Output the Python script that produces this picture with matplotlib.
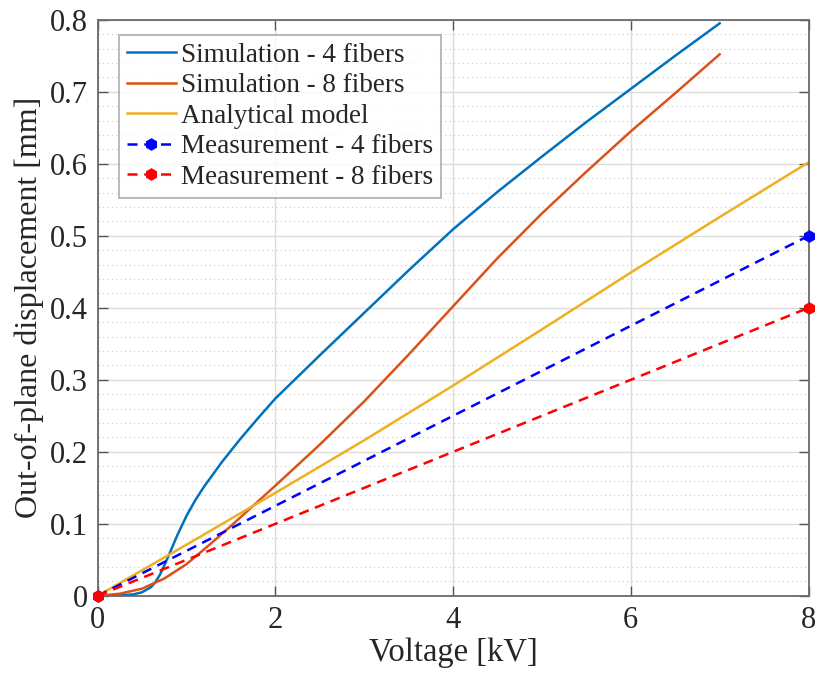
import numpy as np
from matplotlib import pyplot as plt
from matplotlib.ticker import MultipleLocator

# simulation - 4 fibers
v_sim4 = [0, 0.2, 0.4, 0.5, 0.6, 0.65, 0.7, 0.75, 0.8, 0.9, 1.0, 1.1, 1.2, 1.4, 1.6, 1.8, 2.0, 2.5, 3.0, 3.5, 4.0, 4.5, 5.0, 5.5, 6.0, 6.5, 7.0]
d_sim4 = [0, 0.0005, 0.002, 0.005, 0.012, 0.019, 0.029, 0.042, 0.056, 0.085, 0.111, 0.133, 0.152, 0.186, 0.217, 0.246, 0.274, 0.334, 0.393, 0.452, 0.509, 0.561, 0.61, 0.658, 0.704, 0.75, 0.795]

# simulation - 8 fibers
v_sim8 = [0, 0.25, 0.5, 0.75, 1.0, 1.25, 1.5, 1.75, 2.0, 2.5, 3.0, 3.5, 4.0, 4.5, 5.0, 5.5, 6.0, 6.5, 7.0]
d_sim8 = [0, 0.003, 0.01, 0.024, 0.044, 0.07, 0.097, 0.125, 0.153, 0.21, 0.27, 0.335, 0.402, 0.469, 0.531, 0.589, 0.645, 0.698, 0.752]

# analytical model
v_ana = [0, 1, 2, 3, 4, 5, 6, 7, 8]
d_ana = [0, 0.071, 0.143, 0.216, 0.292, 0.37, 0.449, 0.526, 0.602]

# measurements
v_meas = [0, 8]
d_meas4 = [0, 0.5]
d_meas8 = [0, 0.4]

plt.rcParams['font.family'] = ['Liberation Serif', 'DejaVu Serif']

fig = plt.figure(figsize=(8.2, 6.81), dpi=100)
ax = fig.add_axes([0.119, 0.125, 0.867, 0.846])

ax.plot(v_sim4, d_sim4, color='#0072BD', lw=1.8, label='Simulation - 4 fibers')
ax.plot(v_sim8, d_sim8, color='#D95319', lw=1.8, label='Simulation - 8 fibers')
ax.plot(v_ana, d_ana, color='#EDB120', lw=1.8, label='Analytical model')
ax.plot(v_meas, d_meas4, color='blue', lw=1.8, ls='--', dashes=(4, 2.7),
        marker='h', ms=8, label='Measurement - 4 fibers', clip_on=False, zorder=5)
ax.plot(v_meas, d_meas8, color='red', lw=1.8, ls='--', dashes=(4, 2.7),
        marker='h', ms=8, label='Measurement - 8 fibers', clip_on=False, zorder=5)

ax.set_xlim(0, 8)
ax.set_ylim(0, 0.8)
ax.xaxis.set_major_locator(MultipleLocator(2))
ax.yaxis.set_minor_locator(MultipleLocator(0.02))
ax.set_yticks([0, 0.1, 0.2, 0.3, 0.4, 0.5, 0.6, 0.7, 0.8])
ax.set_yticklabels(['0', '0.1', '0.2', '0.3', '0.4', '0.5', '0.6', '0.7', '0.8'])

ax.grid(True, which='major', color='#dcdcdc', lw=1)
ax.grid(True, which='minor', axis='y', color='#c8c8c8', lw=0.8, ls=(0, (1, 3)))
ax.set_axisbelow(True)

for s in ax.spines.values():
    s.set_color('#6a6a6a')
    s.set_linewidth(1.3)

ax.tick_params(axis='both', which='major', direction='in', length=7, width=1,
               color='#555555', labelsize=22, labelcolor='#262626',
               top=True, right=True, pad=7)
ax.tick_params(axis='y', which='minor', length=0)

ax.set_xlabel('Voltage [kV]', fontsize=23.5, color='#262626', labelpad=2)
ax.set_ylabel('Out-of-plane displacement [mm]', fontsize=23, color='#262626', labelpad=4)

leg = ax.legend(loc='upper left', bbox_to_anchor=(0.03, 0.974), borderaxespad=0,
                fontsize=19.5, frameon=True, fancybox=False, handlelength=1.8,
                handletextpad=0.2, labelspacing=0.2, borderpad=0.3)
leg.get_frame().set_edgecolor('#9a9a9a')
leg.get_frame().set_linewidth(1.2)
for t in leg.get_texts():
    t.set_color('#262626')

fig.savefig('out.png', dpi=100)
